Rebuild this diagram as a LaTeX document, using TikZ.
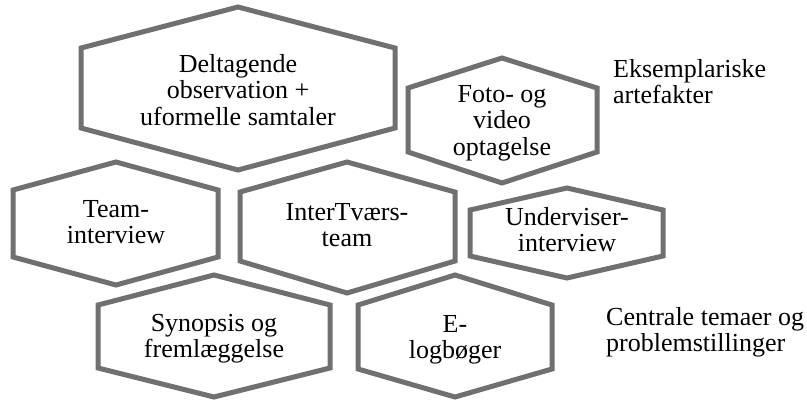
\documentclass[tikz,border=0pt]{standalone}
\usepackage{fontspec}
\setmainfont{Liberation Serif}
\definecolor{hexgray}{RGB}{112,112,112}
\begin{document}
	\begin{tikzpicture}[x=1pt, y=-1pt,
		hexa/.style={draw=hexgray, line width=5pt, fill=white},
		txt/.style={anchor=north, align=center, inner sep=0pt, font=\fontsize{26}{26.5}\selectfont},
		side/.style={anchor=north west, align=left, inner sep=0pt, font=\fontsize{26}{26.5}\selectfont}]
		\useasboundingbox (0,0) rectangle (807,400);
		\draw[hexa] (81,48)--(238,7)--(395,48)--(395,128)--(238,170)--(81,128)--cycle;
		\draw[hexa] (408,88)--(502,58)--(597,88)--(597,152)--(502,183)--(408,152)--cycle;
		\draw[hexa] (13,190)--(116,162)--(218,190)--(218,257)--(116,285)--(13,257)--cycle;
		\draw[hexa] (240,192)--(347,162)--(455,192)--(455,261)--(347,293)--(240,261)--cycle;
		\draw[hexa] (470,210)--(567,188)--(663,210)--(663,256)--(567,278)--(470,256)--cycle;
		\draw[hexa] (98,305)--(214,275)--(330,305)--(330,368)--(214,397)--(98,368)--cycle;
		\draw[hexa] (358,305)--(455,275)--(552,305)--(552,369)--(455,397)--(358,369)--cycle;
		\node[txt] at (238,54) (obs) {Deltagende\\observation +\\uformelle samtaler};
		\node[txt] at (502,85) (foto) {Foto- og\\video\\optagelse};
		\node[txt] at (116,200) (team) {Team-\\interview};
		\node[txt] at (347,203) (inter) {InterTværs-\\team};
		\node[txt] at (567,207) (underv) {Underviser-\\interview};
		\node[txt] at (214,314) (synops) {Synopsis og\\fremlæggelse};
		\node[txt] at (455,315) (elog) {E-\\logbøger};
		\node[side] at (613,59) (artef) {Eksemplariske\\artefakter};
		\node[side] at (606,307) (temaer) {Centrale temaer og\\problemstillinger};
	\end{tikzpicture}
\end{document}
